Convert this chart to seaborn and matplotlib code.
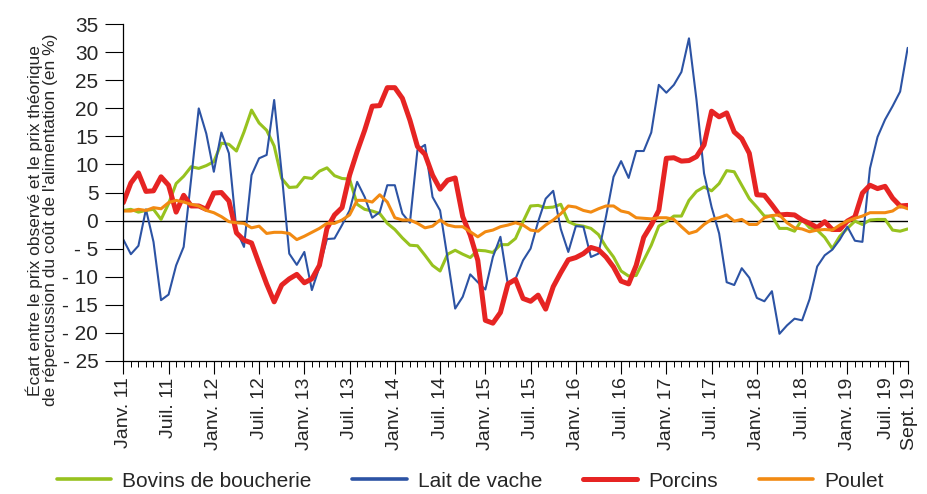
import numpy as np
import pandas as pd
import matplotlib
matplotlib.use("Agg")
import matplotlib.pyplot as plt
from matplotlib.lines import Line2D
from matplotlib.ticker import FixedLocator, MultipleLocator
from matplotlib.transforms import ScaledTranslation
import seaborn as sns

# Monthly series, January 2011 to September 2019
mois = pd.period_range("2011-01", "2019-09", freq="M")

bovins = [1.8, 2.0, 1.5, 1.8, 2.0, 0.2, 3.0, 6.6, 7.9, 9.6, 9.3, 9.8,
          10.5, 13.8, 13.6, 12.4, 15.8, 19.7, 17.4, 16.1, 13.3, 7.5, 5.9, 6.0,
          7.7, 7.5, 8.8, 9.4, 8.0, 7.5, 7.4, 2.9, 2.0, 1.7, 1.25, -0.5,
          -1.6, -3.1, -4.4, -4.5, -6.2, -8.0, -9.0, -6.0, -5.3, -6.0, -6.6, -5.3,
          -5.4, -5.7, -4.3, -4.3, -3.2, -0.2, 2.6, 2.7, 2.3, 2.4, 2.9, -0.2,
          -0.8, -1.0, -1.4, -2.5, -4.7, -6.5, -9.0, -9.9, -9.8, -7.1, -4.4, -1.0,
          -0.2, 0.8, 0.8, 3.6, 5.2, 6.0, 5.3, 6.6, 8.9, 8.7, 6.3, 3.9,
          2.4, 0.8, 0.8, -1.4, -1.4, -1.9, 0.2, -1.3, -1.7, -3.0, -5.0, -2.8,
          -1.4, -0.1, -0.7, 0.1, 0.2, 0.2, -1.7, -1.9, -1.5]

lait = [-3.4, -6.0, -4.5, 2.0, -3.8, -14.2, -13.2, -8.0, -4.7, 7.5, 20.0, 15.5,
        8.7, 15.7, 12.0, -1.7, -4.7, 8.1, 11.1, 11.7, 21.5, 8.4, -5.9, -7.9,
        -5.6, -12.4, -8.3, -3.3, -3.2, -0.8, 1.8, 6.9, 4.2, 0.5, 1.5, 6.3,
        6.3, 1.25, -0.4, 12.6, 13.5, 4.2, 1.8, -6.8, -15.7, -13.6, -9.6, -11.0,
        -12.3, -6.5, -2.9, -11.5, -10.4, -7.1, -5.0, -0.2, 3.9, 5.3, -1.5, -5.6,
        -1.0, -1.1, -6.5, -5.9, 0.7, 7.8, 10.6, 7.6, 12.4, 12.4, 15.7, 24.2,
        22.8, 24.2, 26.5, 32.5, 21.5, 8.4, 2.4, -2.3, -11.0, -11.5, -8.5, -10.2,
        -13.8, -14.4, -12.6, -20.2, -18.7, -17.5, -17.8, -14.0, -8.2, -6.2, -5.2, -3.4,
        -1.1, -3.6, -3.8, 9.3, 14.9, 18.0, 20.4, 23.0, 30.8]

porcins = [3.2, 6.7, 8.5, 5.2, 5.3, 7.8, 6.3, 1.5, 4.5, 2.6, 2.6, 2.0,
           4.9, 5.0, 3.5, -2.2, -3.5, -4.0, -7.7, -11.3, -14.5, -11.5, -10.4, -9.6,
           -11.1, -10.4, -8.0, -1.4, 1.0, 2.3, 8.1, 12.3, 16.1, 20.4, 20.5, 23.7,
           23.7, 21.8, 17.9, 13.2, 11.8, 8.1, 5.6, 7.2, 7.6, 0.7, -2.6, -7.1,
           -17.8, -18.3, -16.4, -11.3, -10.5, -13.9, -14.4, -13.3, -15.8, -11.8, -9.3, -7.0,
           -6.6, -5.9, -4.8, -5.2, -6.5, -8.3, -10.8, -11.3, -8.0, -3.0, -0.8, 1.8,
           11.1, 11.2, 10.6, 10.7, 11.4, 13.5, 19.5, 18.5, 19.2, 15.8, 14.6, 12.0,
           4.6, 4.5, 2.8, 1.0, 1.1, 1.0, 0.1, -0.5, -1.25, -0.2, -1.6, -1.6,
           -0.1, 0.65, 4.9, 6.3, 5.7, 6.1, 4.0, 2.6, 2.7]

poulet = [1.7, 1.7, 2.0, 1.8, 2.3, 2.1, 3.2, 3.6, 3.3, 2.9, 2.6, 1.8,
          1.4, 0.7, -0.2, -0.4, -0.5, -1.3, -1.0, -2.3, -2.1, -2.1, -2.3, -3.4,
          -2.8, -2.1, -1.4, -0.5, -0.5, 0.1, 1.0, 3.6, 3.6, 3.3, 4.6, 3.3,
          0.5, 0.1, 0.1, -0.5, -1.3, -1.0, 0.1, -0.8, -1.1, -1.1, -2.0, -2.9,
          -2.0, -1.7, -1.1, -0.8, -0.4, -0.8, -1.7, -1.9, -0.8, 0.1, 1.2, 2.6,
          2.4, 1.8, 1.5, 2.1, 2.6, 2.6, 1.7, 1.4, 0.5, 0.4, 0.3, 0.5,
          0.5, 0.2, -1.1, -2.3, -1.9, -0.7, 0.2, 0.5, 1.0, -0.1, 0.2, -0.7,
          -0.7, 0.5, 0.9, 1.0, -0.4, -1.3, -1.5, -2.0, -1.7, -1.6, -1.7, -0.8,
          -0.1, 0.4, 0.8, 1.4, 1.4, 1.4, 1.7, 2.6, 2.1]

series = ["Bovins de boucherie", "Lait de vache", "Porcins", "Poulet"]
couleurs = {"Bovins de boucherie": "#97C21F", "Lait de vache": "#2C53A4",
            "Porcins": "#E62423", "Poulet": "#F28A12"}
epaisseurs = {"Bovins de boucherie": 2.2, "Lait de vache": 1.5,
              "Porcins": 3.6, "Poulet": 2.2}

noms_mois = {1: "Janv.", 7: "Juil.", 9: "Sept."}

x = np.arange(len(mois))
df = pd.concat([
    pd.DataFrame({"mois": x, "ecart": vals, "serie": nom})
    for nom, vals in zip(series, [bovins, lait, porcins, poulet])
], ignore_index=True)

# Major ticks every January and July, plus the final month
pos_maj = [i for i, p in enumerate(mois) if p.month in (1, 7)] + [len(mois) - 1]
etiquettes_x = [f"{noms_mois[mois[i].month]} {mois[i].year % 100:02d}" for i in pos_maj]

sns.set_style("white")
plt.rcParams["font.family"] = ["Liberation Sans", "DejaVu Sans"]

fig = plt.figure(figsize=(9.28, 4.94), dpi=100)
ax = fig.add_axes([0.1329, 0.2698, 0.8452, 0.681])

ax.axhline(0, color="black", lw=1.0, zorder=1.5)

sns.lineplot(data=df, x="mois", y="ecart", hue="serie", size="serie",
             hue_order=series, size_order=series,
             palette=couleurs, sizes=epaisseurs, errorbar=None,
             legend=False, ax=ax)

ax.set_xlim(0, len(mois) - 1)
ax.set_ylim(-25, 35)

yt = list(range(-25, 36, 5))
ax.set_yticks(yt)
ax.set_yticklabels([f"- {abs(v)}" if v < 0 else str(v) for v in yt], fontsize=15)
ax.tick_params(axis="y", which="major", direction="out", length=13, width=0.8,
               color="black", pad=5, left=True)

ax.xaxis.set_major_locator(FixedLocator(pos_maj))
ax.xaxis.set_minor_locator(MultipleLocator(1))
ax.set_xticklabels(etiquettes_x, rotation=90, fontsize=14)
ax.tick_params(axis="x", which="major", direction="out", length=9, width=0.8,
               color="black", pad=3, bottom=True)
ax.tick_params(axis="x", which="minor", direction="out", length=4.3, width=0.7,
               color="black", bottom=True)

# The last two labels sit only two months apart: spread them slightly
lbls = ax.get_xticklabels()
lbls[-2].set_transform(lbls[-2].get_transform()
                       + ScaledTranslation(-6 / 100, 0, fig.dpi_scale_trans))
lbls[-1].set_transform(lbls[-1].get_transform()
                       + ScaledTranslation(2 / 100, 0, fig.dpi_scale_trans))

for s in ("top", "right"):
    ax.spines[s].set_visible(False)
for s in ("left", "bottom"):
    ax.spines[s].set_color("black")
    ax.spines[s].set_linewidth(0.9)

ax.set_xlabel("")
ax.set_ylabel("Écart entre le prix observé et le prix théorique\n"
              "de répercussion du coût de l'alimentation (en %)",
              fontsize=12.5, linespacing=1.05)
ax.yaxis.set_label_coords(-0.083, 0.418)

poignees = [Line2D([], [], color=couleurs[s], lw=max(epaisseurs[s], 2.6)) for s in series]
fig.legend(poignees, series, loc="center", bbox_to_anchor=(0.507, 1 - 481 / 494),
           ncol=4, frameon=False, fontsize=15, handlelength=2.6,
           handletextpad=0.55, columnspacing=1.95)

fig.savefig("out.png", dpi=100)
